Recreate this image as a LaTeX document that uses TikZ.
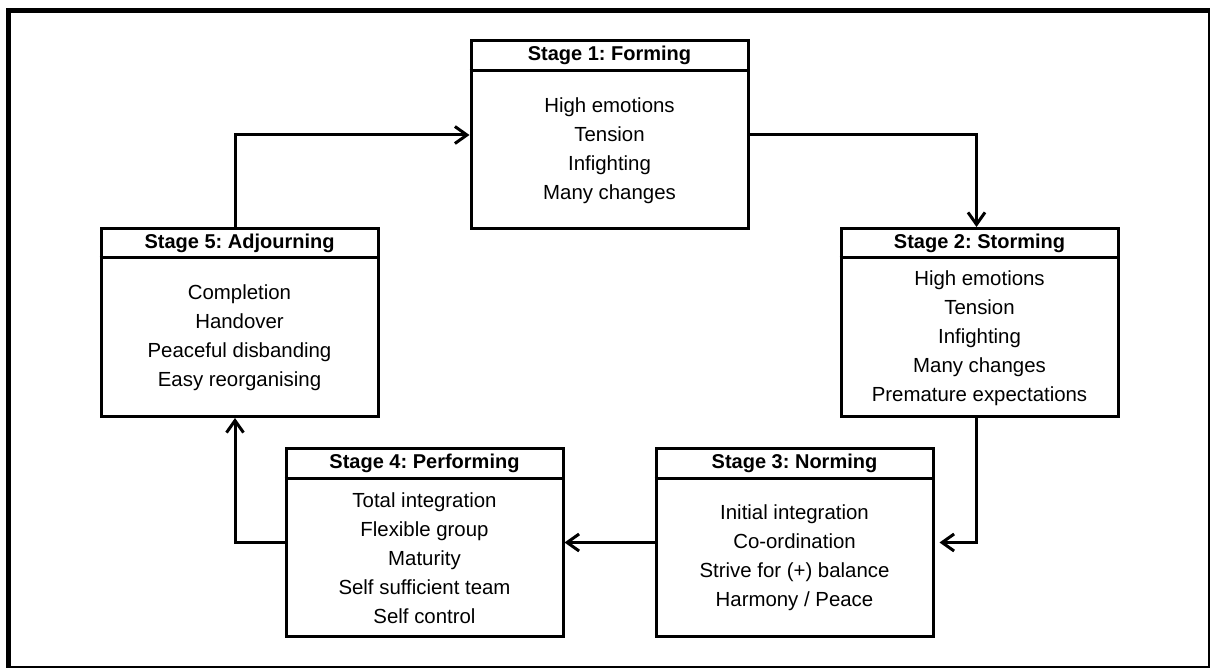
\documentclass[tikz,border=0pt]{standalone}
\usepackage{fontspec}
\setmainfont{Liberation Sans}
\usetikzlibrary{arrows.meta,calc}
\frenchspacing

\tikzset{
  stagebox/.style={draw, line width=3pt, minimum width=277pt, minimum height=188pt, inner sep=0pt},
  hdr/.style={font=\bfseries\fontsize{20}{24}\selectfont, inner sep=0pt},
  body/.style={font=\fontsize{20.4}{29}\selectfont, align=center, inner sep=0pt},
  divider/.style={line width=3pt},
  flow/.style={line width=3pt, -{Straight Barb[length=12pt,width=17pt]}},
}

\begin{document}
\begin{tikzpicture}[x=1pt,y=-1pt]
\useasboundingbox (0,0) rectangle (1210,668);

% outer frame: heavy top/left edges, light right/bottom edges
\fill (6,8) rectangle (1210,13);
\fill (6,8) rectangle (11,668);
\fill (1207.8,13) rectangle (1209.6,668);
\fill (11,665.8) rectangle (1209.6,667.6);

% stage boxes
\node[stagebox] (s1) at (609.5,135) {};
\node[stagebox] (s2) at (979.5,322.5) {};
\node[stagebox] (s3) at (794.5,542.5) {};
\node[stagebox] (s4) at (424.5,542.5) {};
\node[stagebox] (s5) at (239.5,322.5) {};

% header dividers
\foreach \s in {s1,s2,s3,s4,s5}
  \draw[divider] ([yshift=-31pt]\s.north west) -- ([yshift=-31pt]\s.north east);

% headers
\node[hdr] (s1h) at ([yshift=-16pt]s1.north) {Stage 1: Forming};
\node[hdr] (s2h) at ([yshift=-16pt]s2.north) {Stage 2: Storming};
\node[hdr] (s3h) at ([yshift=-16pt]s3.north) {Stage 3: Norming};
\node[hdr] (s4h) at ([yshift=-16pt]s4.north) {Stage 4: Performing};
\node[hdr] (s5h) at ([yshift=-16pt]s5.north) {Stage 5: Adjourning};

% bodies
\node[body] (s1b) at ($(s1.south)!0.5!([yshift=-31pt]s1.north)$)
  {High emotions\\Tension\\Infighting\\Many changes};
\node[body] (s2b) at ($(s2.south)!0.5!([yshift=-31pt]s2.north)$)
  {High emotions\\Tension\\Infighting\\Many changes\\Premature expectations};
\node[body] (s3b) at ($(s3.south)!0.5!([yshift=-31pt]s3.north)$)
  {Initial integration\\Co-ordination\\Strive for (+) balance\\Harmony / Peace};
\node[body] (s4b) at ($(s4.south)!0.5!([yshift=-31pt]s4.north)$)
  {Total integration\\Flexible group\\Maturity\\Self sufficient team\\Self control};
\node[body] (s5b) at ($(s5.south)!0.5!([yshift=-31pt]s5.north)$)
  {Completion\\Handover\\Peaceful disbanding\\Easy reorganising};

% vertical tracks of the cycle
\coordinate (jl) at (235,0);
\coordinate (jr) at (976.5,0);

% cycle connectors
\draw[flow] (s5.north -| jl) |- (s1.west);
\draw[flow] (s1.east) -| (s2.north -| jr);
\draw[flow] (s2.south -| jr) |- ([xshift=5pt]s3.east);
\draw[flow] (s3.west) -- (s4.east);
\draw[flow] (s4.west) -| (s5.south -| jl);
\end{tikzpicture}
\end{document}
